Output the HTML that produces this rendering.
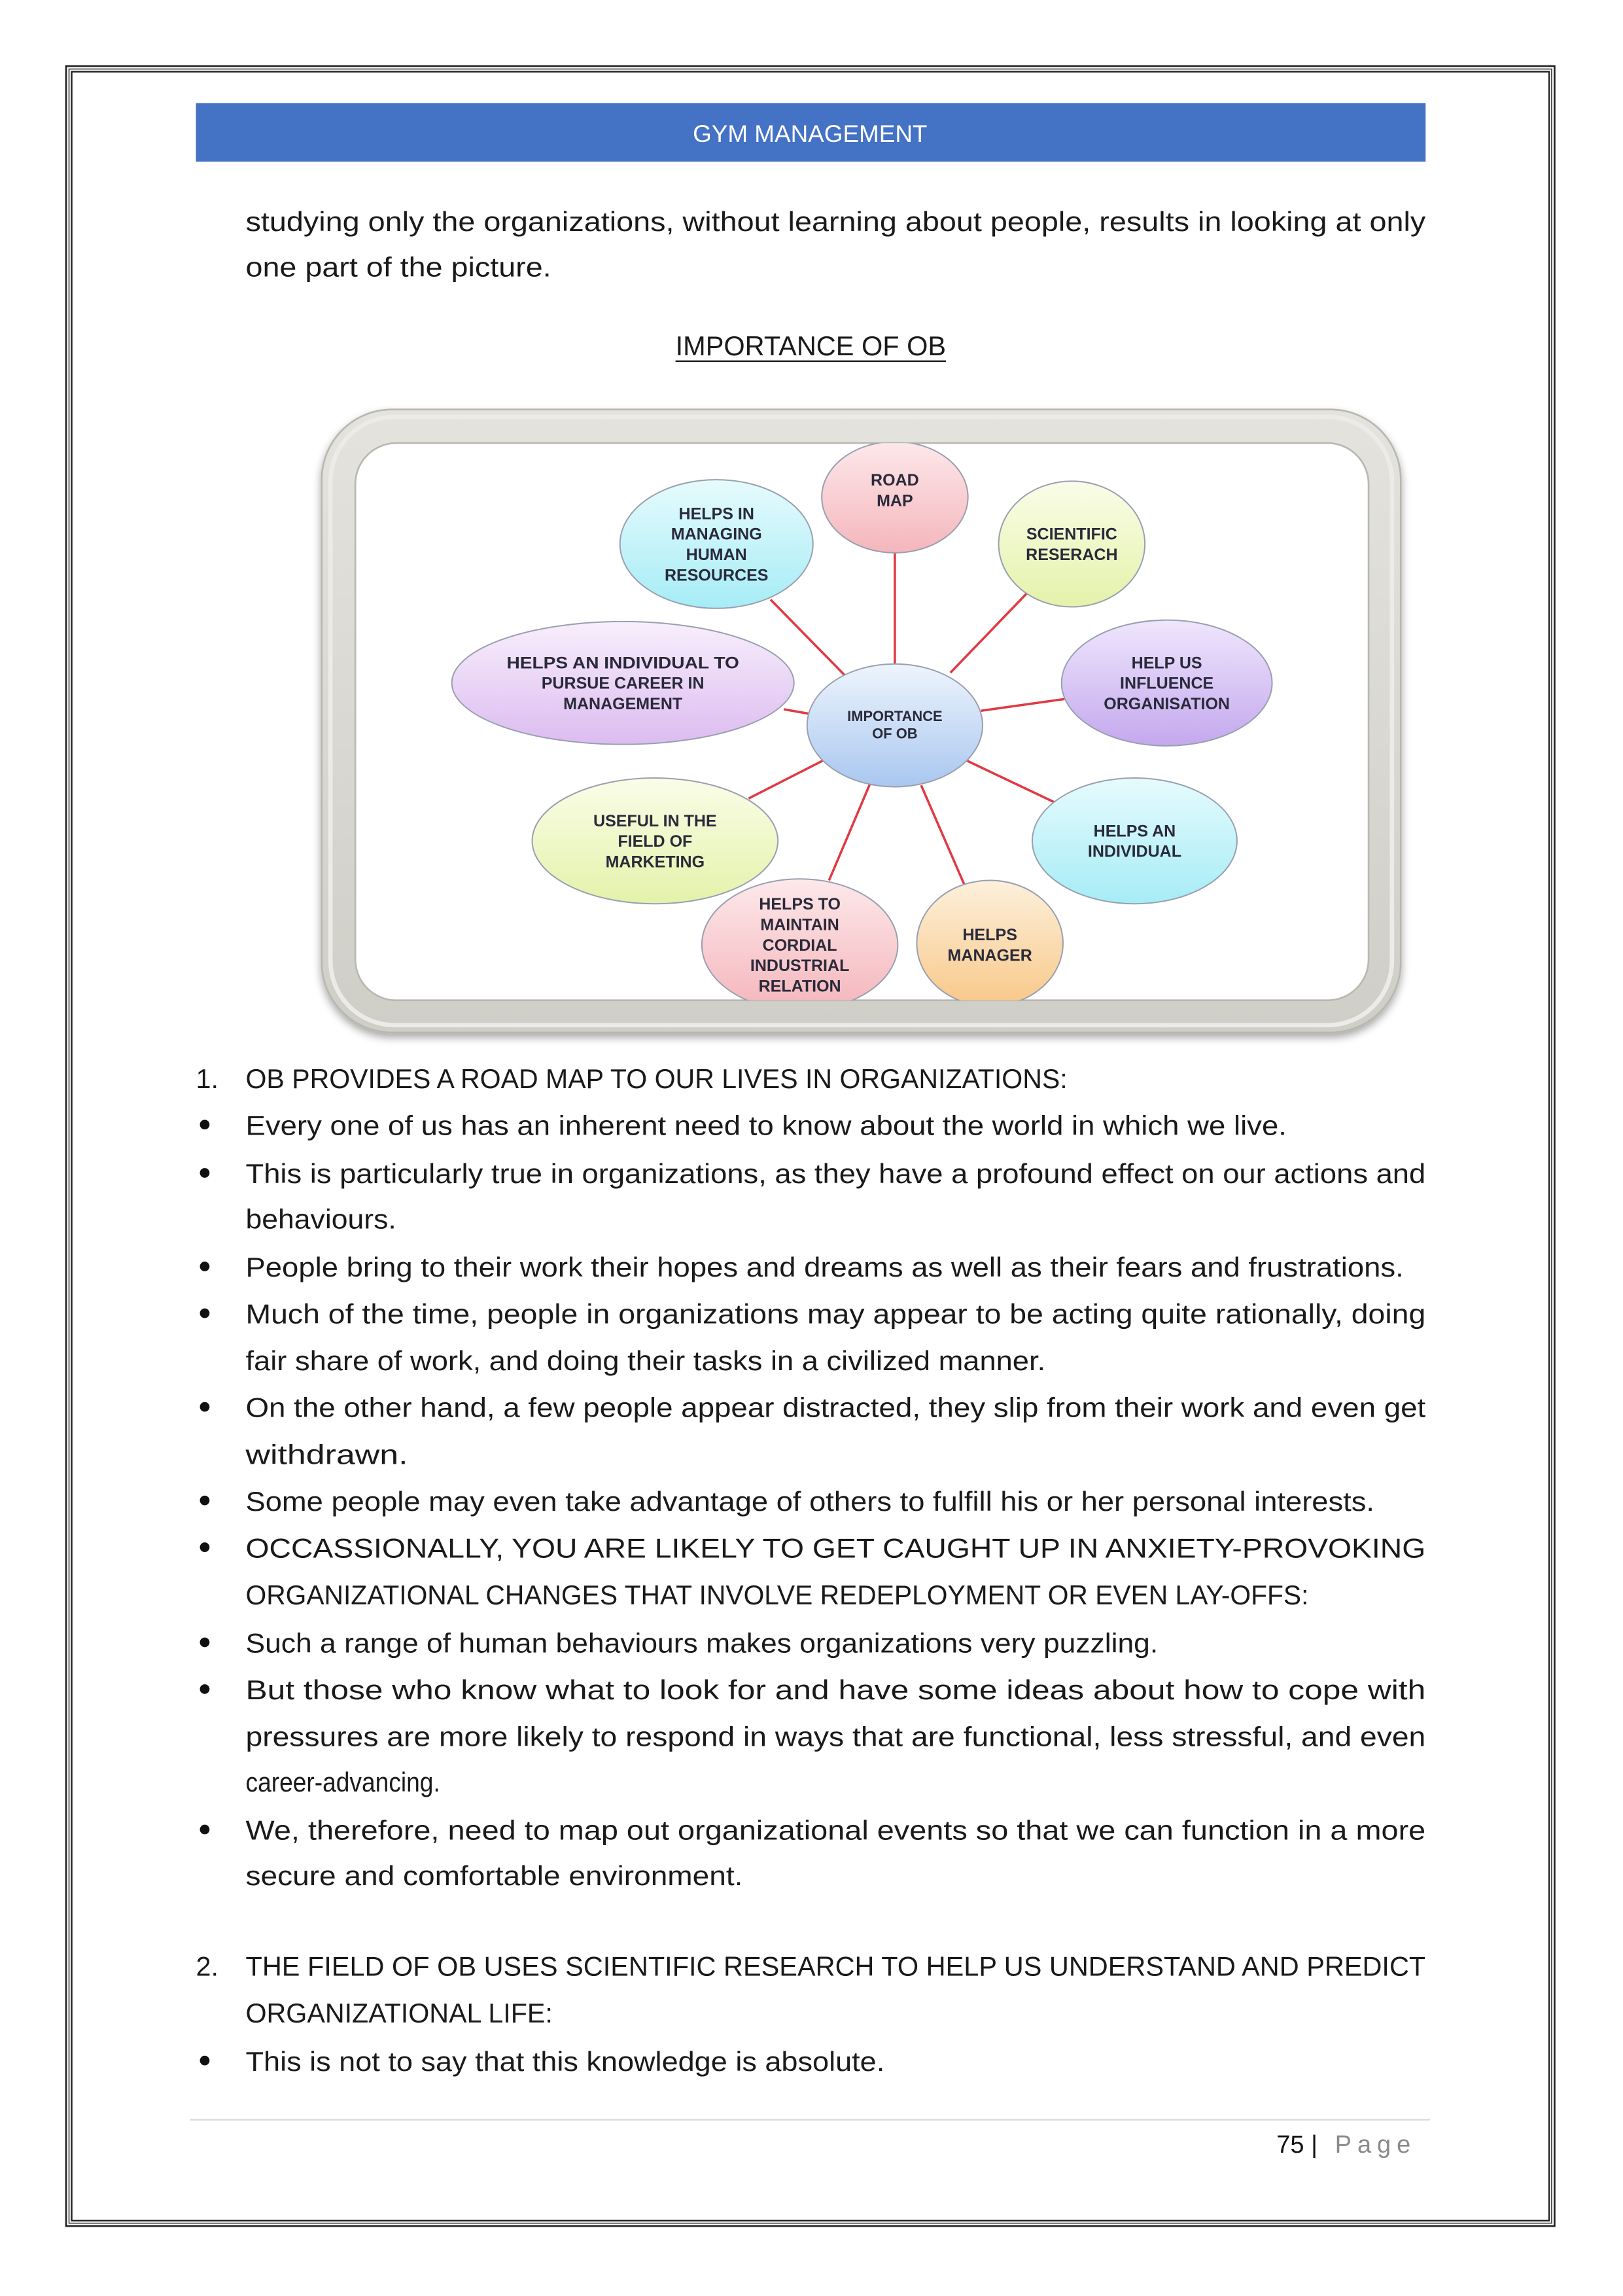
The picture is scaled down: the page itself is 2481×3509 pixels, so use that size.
<!DOCTYPE html>
<html><head><meta charset="utf-8"><style>
html,body{margin:0;padding:0;background:#fff;}
svg{display:block;}
.b{font-family:"Liberation Sans",sans-serif;font-size:18.5px;fill:#1a1a1a;}
.n{font-family:"Liberation Sans",sans-serif;font-weight:bold;font-size:11.2px;fill:#2a2a3a;text-anchor:middle;}
</style></head><body>
<svg width="2481" height="3509" viewBox="0 0 1110 1570" preserveAspectRatio="none" xmlns="http://www.w3.org/2000/svg">
<defs>
<filter id="sh" x="-10%" y="-10%" width="120%" height="130%"><feGaussianBlur in="SourceAlpha" stdDeviation="3"/><feOffset dx="0" dy="3"/><feComponentTransfer><feFuncA type="linear" slope="0.35"/></feComponentTransfer><feMerge><feMergeNode/><feMergeNode in="SourceGraphic"/></feMerge></filter>
<linearGradient id="fr" x1="0" y1="0" x2="0" y2="1"><stop offset="0" stop-color="#e4e3de"/><stop offset="1" stop-color="#cfcec7"/></linearGradient>
<linearGradient id="gBlue" x1="0" y1="0" x2="0" y2="1"><stop offset="0" stop-color="#eef4fd"/><stop offset="1" stop-color="#a9c7f0"/></linearGradient>
<linearGradient id="gPink" x1="0" y1="0" x2="0" y2="1"><stop offset="0" stop-color="#fde8ea"/><stop offset="1" stop-color="#f4b6bc"/></linearGradient>
<linearGradient id="gCyan" x1="0" y1="0" x2="0" y2="1"><stop offset="0" stop-color="#e6fbfd"/><stop offset="1" stop-color="#a6ecf6"/></linearGradient>
<linearGradient id="gYel" x1="0" y1="0" x2="0" y2="1"><stop offset="0" stop-color="#fafde8"/><stop offset="1" stop-color="#e4f2aa"/></linearGradient>
<linearGradient id="gLav" x1="0" y1="0" x2="0" y2="1"><stop offset="0" stop-color="#f8eefc"/><stop offset="1" stop-color="#dcbcf0"/></linearGradient>
<linearGradient id="gPur" x1="0" y1="0" x2="0" y2="1"><stop offset="0" stop-color="#efe6fd"/><stop offset="1" stop-color="#c4a8ee"/></linearGradient>
<linearGradient id="gOr" x1="0" y1="0" x2="0" y2="1"><stop offset="0" stop-color="#fdf0dc"/><stop offset="1" stop-color="#f8c888"/></linearGradient>
<clipPath id="cp"><rect x="243" y="303" width="693" height="381" rx="28"/></clipPath>
</defs>

<rect x="45.2" y="45.2" width="1018" height="1477" fill="none" stroke="#222" stroke-width="1.2"/>
<rect x="47.2" y="47.2" width="1014" height="1473" fill="none" stroke="#333" stroke-width="0.7"/>
<rect x="49" y="49" width="1010.5" height="1469.5" fill="none" stroke="#222" stroke-width="1.1"/>

<rect x="134" y="70.5" width="841" height="40" fill="#4472c4"/>
<text x="554" y="97" text-anchor="middle" font-family="Liberation Sans, sans-serif" font-size="16.5" fill="#fff">GYM MANAGEMENT</text>

<text class="b" x="168" y="158" textLength="807" lengthAdjust="spacingAndGlyphs">studying only the organizations, without learning about people, results in looking at only</text>
<text class="b" x="168" y="189" textLength="209" lengthAdjust="spacingAndGlyphs">one part of the picture.</text>
<text class="b" x="462" y="243" textLength="185" lengthAdjust="spacingAndGlyphs">IMPORTANCE OF OB</text>
<line x1="462" y1="247" x2="647" y2="247" stroke="#111" stroke-width="1"/>

<g filter="url(#sh)">
<rect x="220" y="280" width="738" height="426" rx="48" fill="url(#fr)" stroke="#b8b7b0" stroke-width="1.2"/>
</g>
<rect x="226" y="285" width="726" height="416" rx="44" fill="none" stroke="#ecebe7" stroke-width="3"/>
<rect x="243" y="303" width="693" height="381" rx="28" fill="#fff" stroke="#b9b8b2" stroke-width="1.2"/>

<g clip-path="url(#cp)">
<g stroke="#e03a44" stroke-width="1.6">
<line x1="612" y1="456" x2="612" y2="376"/>
<line x1="578" y1="462" x2="527" y2="410"/>
<line x1="650" y1="460" x2="702" y2="406"/>
<line x1="553" y1="488" x2="536" y2="485"/>
<line x1="671" y1="486" x2="728" y2="478"/>
<line x1="563" y1="520" x2="512" y2="546"/>
<line x1="661" y1="520" x2="722" y2="549"/>
<line x1="595" y1="536" x2="567" y2="602"/>
<line x1="630" y1="537" x2="660" y2="606"/>
</g>
<g stroke="#9aa0b0" stroke-width="0.9">
<ellipse cx="612" cy="340" rx="50" ry="38" fill="url(#gPink)"/>
<ellipse cx="490" cy="372" rx="66" ry="44" fill="url(#gCyan)"/>
<ellipse cx="733" cy="372" rx="50" ry="43" fill="url(#gYel)"/>
<ellipse cx="426" cy="467" rx="117" ry="42" fill="url(#gLav)"/>
<ellipse cx="798" cy="467" rx="72" ry="43" fill="url(#gPur)"/>
<ellipse cx="448" cy="575" rx="84" ry="43" fill="url(#gYel)"/>
<ellipse cx="776" cy="575" rx="70" ry="43" fill="url(#gCyan)"/>
<ellipse cx="547" cy="646" rx="67" ry="45" fill="url(#gPink)"/>
<ellipse cx="677" cy="645" rx="50" ry="43" fill="url(#gOr)"/>
<ellipse cx="612" cy="496" rx="60" ry="42" fill="url(#gBlue)"/>
</g>
<text class="n" x="612" y="332">ROAD</text><text class="n" x="612" y="346">MAP</text>
<text class="n" x="490" y="355">HELPS IN</text><text class="n" x="490" y="369">MANAGING</text><text class="n" x="490" y="383">HUMAN</text><text class="n" x="490" y="397">RESOURCES</text>
<text class="n" x="733" y="369">SCIENTIFIC</text><text class="n" x="733" y="383">RESERACH</text>
<text class="n" x="426" y="457" textLength="159" lengthAdjust="spacingAndGlyphs">HELPS AN INDIVIDUAL TO</text><text class="n" x="426" y="471">PURSUE CAREER IN</text><text class="n" x="426" y="485">MANAGEMENT</text>
<text class="n" x="798" y="457">HELP US</text><text class="n" x="798" y="471">INFLUENCE</text><text class="n" x="798" y="485">ORGANISATION</text>
<text class="n" x="612" y="493" style="font-size:9.8px">IMPORTANCE</text><text class="n" x="612" y="505" style="font-size:9.8px">OF OB</text>
<text class="n" x="448" y="565">USEFUL IN THE</text><text class="n" x="448" y="579">FIELD OF</text><text class="n" x="448" y="593">MARKETING</text>
<text class="n" x="776" y="572">HELPS AN</text><text class="n" x="776" y="586">INDIVIDUAL</text>
<text class="n" x="547" y="622">HELPS TO</text><text class="n" x="547" y="636">MAINTAIN</text><text class="n" x="547" y="650">CORDIAL</text><text class="n" x="547" y="664">INDUSTRIAL</text><text class="n" x="547" y="678">RELATION</text>
<text class="n" x="677" y="643">HELPS</text><text class="n" x="677" y="657">MANAGER</text>
</g>

<text class="b" x="134" y="744">1.</text>
<text class="b" x="168" y="744" textLength="562" lengthAdjust="spacingAndGlyphs">OB PROVIDES A ROAD MAP TO OUR LIVES IN ORGANIZATIONS:</text>

<g fill="#111">
<circle cx="140" cy="769" r="3.3"/><circle cx="140" cy="802" r="3.3"/><circle cx="140" cy="866" r="3.3"/>
<circle cx="140" cy="898" r="3.3"/><circle cx="140" cy="962" r="3.3"/><circle cx="140" cy="1026" r="3.3"/>
<circle cx="140" cy="1058" r="3.3"/><circle cx="140" cy="1123" r="3.3"/><circle cx="140" cy="1155" r="3.3"/>
<circle cx="140" cy="1251" r="3.3"/><circle cx="140" cy="1409" r="3.3"/>
</g>
<text class="b" x="168" y="776" textLength="712" lengthAdjust="spacingAndGlyphs">Every one of us has an inherent need to know about the world in which we live.</text>
<text class="b" x="168" y="809" textLength="807" lengthAdjust="spacingAndGlyphs">This is particularly true in organizations, as they have a profound effect on our actions and</text>
<text class="b" x="168" y="840" textLength="103" lengthAdjust="spacingAndGlyphs">behaviours.</text>
<text class="b" x="168" y="873" textLength="792" lengthAdjust="spacingAndGlyphs">People bring to their work their hopes and dreams as well as their fears and frustrations.</text>
<text class="b" x="168" y="905" textLength="807" lengthAdjust="spacingAndGlyphs">Much of the time, people in organizations may appear to be acting quite rationally, doing</text>
<text class="b" x="168" y="937" textLength="547" lengthAdjust="spacingAndGlyphs">fair share of work, and doing their tasks in a civilized manner.</text>
<text class="b" x="168" y="969" textLength="807" lengthAdjust="spacingAndGlyphs">On the other hand, a few people appear distracted, they slip from their work and even get</text>
<text class="b" x="168" y="1001" textLength="111" lengthAdjust="spacingAndGlyphs">withdrawn.</text>
<text class="b" x="168" y="1033" textLength="772" lengthAdjust="spacingAndGlyphs">Some people may even take advantage of others to fulfill his or her personal interests.</text>
<text class="b" x="168" y="1065" textLength="807" lengthAdjust="spacingAndGlyphs">OCCASSIONALLY, YOU ARE LIKELY TO GET CAUGHT UP IN ANXIETY-PROVOKING</text>
<text class="b" x="168" y="1097" textLength="727" lengthAdjust="spacingAndGlyphs">ORGANIZATIONAL CHANGES THAT INVOLVE REDEPLOYMENT OR EVEN LAY-OFFS:</text>
<text class="b" x="168" y="1130" textLength="624" lengthAdjust="spacingAndGlyphs">Such a range of human behaviours makes organizations very puzzling.</text>
<text class="b" x="168" y="1162" textLength="807" lengthAdjust="spacingAndGlyphs">But those who know what to look for and have some ideas about how to cope with</text>
<text class="b" x="168" y="1194" textLength="807" lengthAdjust="spacingAndGlyphs">pressures are more likely to respond in ways that are functional, less stressful, and even</text>
<text class="b" x="168" y="1225" textLength="133" lengthAdjust="spacingAndGlyphs">career-advancing.</text>
<text class="b" x="168" y="1258" textLength="807" lengthAdjust="spacingAndGlyphs">We, therefore, need to map out organizational events so that we can function in a more</text>
<text class="b" x="168" y="1289" textLength="340" lengthAdjust="spacingAndGlyphs">secure and comfortable environment.</text>

<text class="b" x="134" y="1351">2.</text>
<text class="b" x="168" y="1351" textLength="807" lengthAdjust="spacingAndGlyphs">THE FIELD OF OB USES SCIENTIFIC RESEARCH TO HELP US UNDERSTAND AND PREDICT</text>
<text class="b" x="168" y="1383" textLength="210" lengthAdjust="spacingAndGlyphs">ORGANIZATIONAL LIFE:</text>
<text class="b" x="168" y="1416" textLength="437" lengthAdjust="spacingAndGlyphs">This is not to say that this knowledge is absolute.</text>

<line x1="130" y1="1449.5" x2="978" y2="1449.5" stroke="#d8d8d8" stroke-width="1"/>
<text x="873" y="1472" font-family="Liberation Sans, sans-serif" font-size="17" fill="#111">75 |</text>
<text x="913" y="1472" font-family="Liberation Sans, sans-serif" font-size="17" fill="#8a8a8a" letter-spacing="4">Page</text>
</svg>
</body></html>
